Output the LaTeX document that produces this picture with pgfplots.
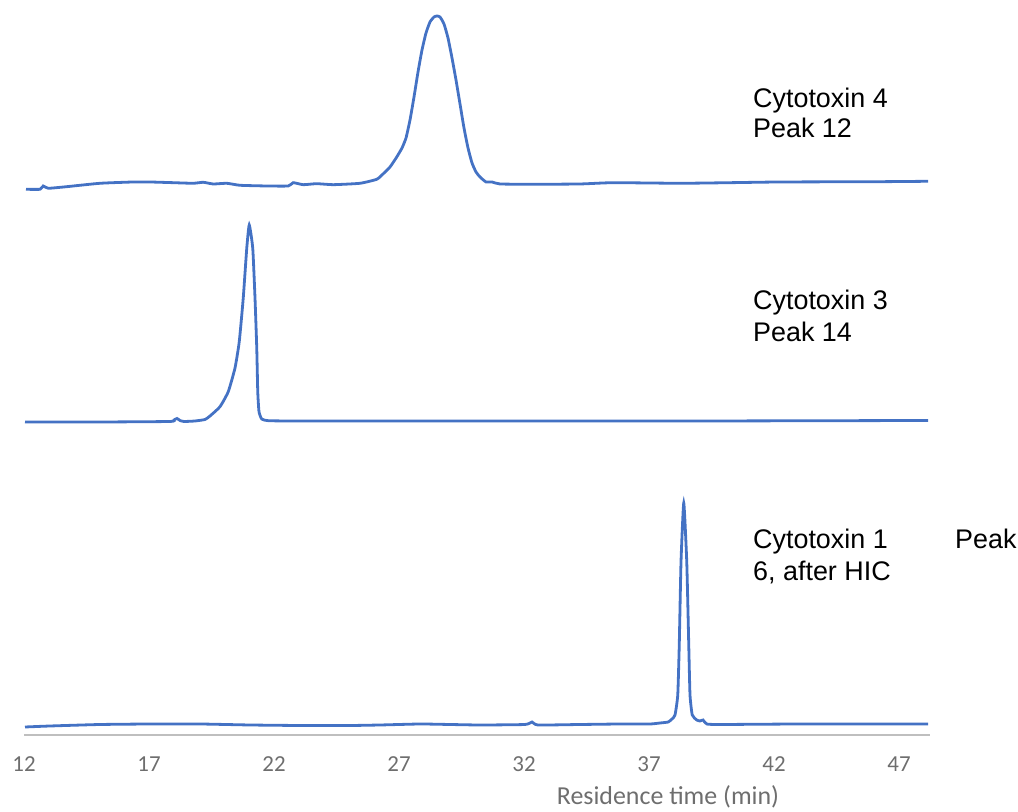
\documentclass[border=0pt]{standalone}
\usepackage{fontspec}
\setmainfont{Liberation Sans}
\newfontfamily\carlito{Carlito}
\usepackage{pgfplots}
\pgfplotsset{compat=1.18}
\definecolor{traceblue}{HTML}{4472C4}
\definecolor{axisgray}{HTML}{BFBFBF}
\definecolor{tickgray}{HTML}{6E6E6E}
\begin{document}
\begin{tikzpicture}[x=1bp,y=1bp]
\useasboundingbox (0,0) rectangle (1018,812);
\begin{axis}[
  at={(24bp,77bp)}, anchor=south west,
  width=906bp, height=735bp, scale only axis,
  xmin=12, xmax=48.24, ymin=77, ymax=812,
  axis x line=bottom, axis y line=none,
  axis line style={-, draw=axisgray, line width=2.8bp},
  xtick={12,17,22,27,32,37,42,47},
  major tick length=0pt,
  /pgf/number format/assume math mode=true,
  xticklabel style={font=\carlito\fontsize{23}{23}\selectfont, text=tickgray, anchor=base, yshift=-37bp, inner sep=0pt},
  clip=false,
]
% Cytotoxin 4, Peak 12
\addplot[traceblue, line width=2.8bp, smooth, tension=0.3] coordinates {
(12.08,622.7)(12.64,622.7)(12.77,626)(12.97,623.7)(13.71,625.3)(15.04,628.7)(16.37,630)(17.04,630)
(17.97,629.3)(18.77,628.7)(19.17,629.7)(19.57,628)(20.11,628.7)(20.64,626.7)(21.71,626)(22.57,626)
(22.77,629.3)(23.17,627.3)(23.71,628.3)(24.37,627.3)(25.44,628.7)(26.11,632.7)(26.36,638)(26.64,645)
(26.91,655)(27.12,664)(27.28,674)(27.44,692)(27.60,715)(27.76,740)(27.92,762)(28.08,779)(28.24,790)
(28.40,795)(28.52,796)(28.64,795)(28.80,788)(28.96,774)(29.12,754)(29.28,732)(29.44,708)(29.60,684)
(29.76,664)(29.92,649)(30.08,640)(30.24,635)(30.48,630)(30.72,630)(31.04,628)(32.36,627.7)(34.24,628)
(35.56,629.3)(38.24,628.7)(40.24,629.3)(42.24,630)(46.24,630.3)(48.16,630.7)
};
% Cytotoxin 3, Peak 14
\addplot[traceblue, line width=2.8bp, smooth, tension=0.3] coordinates {
(12.04,390)(15.04,390)(17.84,390.5)(18.00,392)(18.12,393.5)(18.24,391.5)(18.40,390.5)(18.84,391)
(19.24,392.5)(19.44,396)(19.84,405.3)(20.17,420.3)(20.44,444)(20.61,470.3)(20.77,514)(20.91,563.7)
(21.01,587)(21.15,563.7)(21.24,514)(21.31,464)(21.35,420.3)(21.40,400.3)(21.51,393)(21.77,391.3)
(23.04,391)(31.04,391)(39.04,391)(48.16,391.5)
};
% Cytotoxin 1, Peak 6, after HIC
\addplot[traceblue, line width=2.8bp, smooth, tension=0.3] coordinates {
(12.04,85)(13.04,86)(15.04,87.5)(17.04,88)(19.04,88)(21.04,87)(23.04,86.5)(25.04,86.5)(26.24,87)
(27.84,88)(29.04,87.5)(30.24,87)(32.04,87.5)(32.32,90)(32.56,87)(34.24,87.5)(35.84,88)(37.04,88)
(37.44,89)(37.77,90)(37.92,93)(38.04,97)(38.15,117)(38.21,167)(38.28,250)(38.39,309)(38.51,250)
(38.59,167)(38.64,117)(38.73,97)(38.91,92)(39.04,91)(39.16,92)(39.31,88)(39.84,87.5)(43.04,88)(48.16,88)
};
\end{axis}
\begin{scope}[every node/.style={inner sep=0pt, anchor=base west, font=\fontsize{27}{27}\selectfont}]
\node at (753,704) {Cytotoxin 4};
\node at (753,674) {Peak 12};
\node at (753,502) {Cytotoxin 3};
\node at (753,470) {Peak 14};
\node at (753,263) {Cytotoxin 1};
\node at (955,263) {Peak};
\node at (753,231) {6, after HIC};
\end{scope}
\node[inner sep=0pt, anchor=base, text=tickgray, font=\carlito\fontsize{26}{26}\selectfont] at (668,7) {Residence time (min)};
\end{tikzpicture}
\end{document}
